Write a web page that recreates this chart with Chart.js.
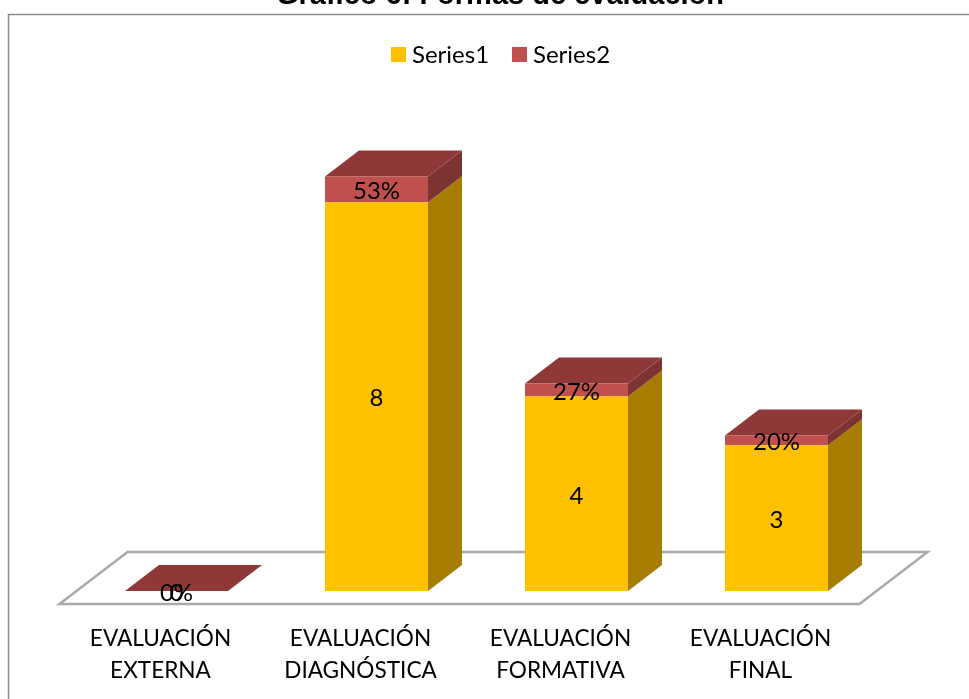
<!DOCTYPE html>
<html lang="es">
<head>
<meta charset="utf-8">
<title>Formas de evaluación</title>
<script src="https://cdn.jsdelivr.net/npm/chart.js@4"></script>
<style>
  html, body { margin: 0; padding: 0; background: #fff; overflow: hidden; }
  canvas { display: block; }
</style>
</head>
<body>
<canvas id="myChart" width="969" height="699"></canvas>
<script>
// Datos
const categorias = [
  ["EVALUACIÓN", "EXTERNA"],
  ["EVALUACIÓN", "DIAGNÓSTICA"],
  ["EVALUACIÓN", "FORMATIVA"],
  ["EVALUACIÓN", "FINAL"]
];
const series1 = [0, 8, 4, 3];
const series2 = [0, 0.53, 0.27, 0.20];
const titulo = "Gráfico 6: Formas de evaluación";

const fuente = "Lato, 'Open Sans', sans-serif";
const yellowColor = "#FFC000";
const yellowSide = "#A67D00";
const redColor = "#C0504D";
const redSide = "#7C3332";
const redTop = "#8E3937";

// profundidad del efecto 3D
const depthX = 34;
const depthY = 26;

function poly(ctx, color, pts) {
  ctx.fillStyle = color;
  ctx.beginPath();
  pts.forEach((p, i) => i ? ctx.lineTo(p[0], p[1]) : ctx.moveTo(p[0], p[1]));
  ctx.closePath();
  ctx.fill();
}

// Marco, titulo y leyenda
const marco = {
  id: "marco",
  beforeDraw(chart) {
    const ctx = chart.ctx;
    ctx.save();
    ctx.strokeStyle = "#8C8C8C";
    ctx.lineWidth = 1.5;
    ctx.beginPath();
    ctx.moveTo(8.5, chart.height);
    ctx.lineTo(8.5, 14.5);
    ctx.lineTo(chart.width, 14.5);
    ctx.stroke();

    ctx.fillStyle = "#000";
    ctx.textBaseline = "alphabetic";
    ctx.textAlign = "center";
    ctx.font = "bold 29px 'Liberation Sans', Arial, sans-serif";
    ctx.fillText(titulo, 500, 4);

    ctx.textAlign = "left";
    ctx.font = "24px " + fuente;
    chart.data.datasets.forEach((ds, i) => {
      const x = 391 + i * 121;
      ctx.fillStyle = ds.backgroundColor;
      ctx.fillRect(x, 47, 15, 15);
      ctx.fillStyle = "#000";
      ctx.fillText(ds.label, x + 21, 63);
    });
    ctx.restore();
  }
};

// Piso y caras laterales de las barras
const barras3d = {
  id: "barras3d",
  beforeDatasetsDraw(chart) {
    const ctx = chart.ctx;
    const xs = chart.scales.x;
    const y0 = chart.scales.y.getPixelForValue(0);

    ctx.save();
    ctx.beginPath();
    ctx.moveTo(xs.left - 17, y0 + 13);
    ctx.lineTo(xs.right - 17, y0 + 13);
    ctx.lineTo(xs.right + 51, y0 - 39);
    ctx.lineTo(xs.left + 51, y0 - 39);
    ctx.closePath();
    ctx.fillStyle = "#fff";
    ctx.fill();
    ctx.strokeStyle = "#A9A9A9";
    ctx.lineWidth = 2.5;
    ctx.stroke();

    const sides = [yellowSide, redSide];
    chart.data.datasets.forEach((ds, d) => {
      chart.getDatasetMeta(d).data.forEach(bar => {
        const r = bar.x + bar.width / 2;
        if (bar.base - bar.y > 0) {
          poly(ctx, sides[d], [
            [r, bar.y], [r + depthX, bar.y - depthY],
            [r + depthX, bar.base - depthY], [r, bar.base]
          ]);
        }
      });
    });
    chart.getDatasetMeta(1).data.forEach(bar => {
      const l = bar.x - bar.width / 2;
      const r = bar.x + bar.width / 2;
      poly(ctx, redTop, [
        [l, bar.y], [r, bar.y],
        [r + depthX, bar.y - depthY], [l + depthX, bar.y - depthY]
      ]);
    });
    ctx.restore();
  },
  // Etiquetas de datos
  afterDatasetsDraw(chart) {
    const ctx = chart.ctx;
    ctx.save();
    ctx.fillStyle = "#000";
    ctx.font = "24px " + fuente;
    ctx.textAlign = "center";
    ctx.textBaseline = "middle";
    chart.data.datasets.forEach((ds, d) => {
      chart.getDatasetMeta(d).data.forEach((bar, i) => {
        const v = ds.data[i];
        const txt = d === 0 ? String(v) : Math.round(v * 100) + "%";
        ctx.fillText(txt, bar.x, (bar.y + bar.base) / 2 + 2);
      });
    });
    ctx.restore();
  }
};

const ctx = document.getElementById("myChart").getContext("2d");
new Chart(ctx, {
  type: "bar",
  data: {
    labels: categorias,
    datasets: [
      { label: "Series1", data: series1, backgroundColor: yellowColor },
      { label: "Series2", data: series2, backgroundColor: redColor }
    ]
  },
  options: {
    responsive: false,
    animation: false,
    layout: { padding: { top: 105, left: 76.5, right: 92.5, bottom: 0 } },
    datasets: { bar: { categoryPercentage: 1, barPercentage: 0.515 } },
    plugins: {
      legend: { display: false },
      title: { display: false },
      tooltip: { enabled: false }
    },
    scales: {
      x: {
        stacked: true,
        grid: { display: false, drawTicks: false },
        border: { display: false },
        afterFit(scale) { scale.height = 108; },
        ticks: {
          color: "#000",
          padding: 32,
          labelOffset: -16,
          maxRotation: 0,
          autoSkip: false,
          font: { family: fuente, size: 22.6, lineHeight: 32 / 22.6 }
        }
      },
      y: { stacked: true, display: false, min: 0, max: 10 }
    }
  },
  plugins: [marco, barras3d]
});
</script>
</body>
</html>
